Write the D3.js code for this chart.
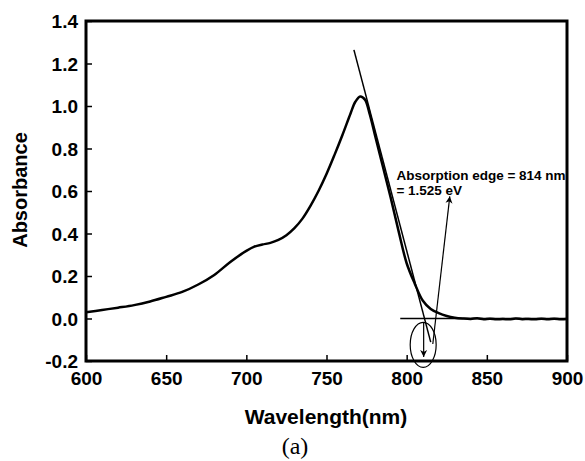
<!DOCTYPE html>
<html>
<head>
<meta charset="utf-8">
<script src="https://cdn.jsdelivr.net/npm/d3@7"></script>
<style>
    body { margin: 0; background: #fff; }
</style>
</head>
<body>
<div id="chart"></div>
<script>
// spectrum
let wavelength = [600, 610, 620, 630, 640, 650, 660, 670, 680, 690, 700, 705, 710, 715, 720, 725, 730, 735, 740, 745,
    750, 755, 760, 765, 768, 771, 774, 777, 780, 785, 790, 795, 800, 805, 810, 815, 820, 825, 830, 835,
    840, 844, 848, 852, 856, 860, 864, 868, 872, 876, 880, 884, 888, 892, 896, 900];
let absorbance = [0.029, 0.040, 0.051, 0.063, 0.080, 0.102, 0.125, 0.160, 0.205, 0.266, 0.318, 0.338, 0.348, 0.356, 0.370, 0.392, 0.425, 0.470, 0.530, 0.600,
    0.680, 0.770, 0.865, 0.965, 1.020, 1.045, 1.030, 0.960, 0.870, 0.720, 0.570, 0.410, 0.260, 0.165, 0.085, 0.045, 0.025, 0.012, 0.004, 0.000,
    -0.002, 0.001, -0.003, -0.001, -0.004, -0.002, -0.004, 0.000, -0.003, -0.002, -0.004, -0.001, -0.003, -0.001, -0.003, -0.002];

let xTicks = [600, 650, 700, 750, 800, 850, 900];
let yTicks = [-0.2, 0.0, 0.2, 0.4, 0.6, 0.8, 1.0, 1.2, 1.4];

// tangent, baseline and annotation marks (data units)
let tangent = [[767.1, 1.264], [815, -0.111]];
let baseline = [[796, 0], [900, 0]];
let downArrow = [[810.6, -0.018], [810.6, -0.181]];
let upArrow = [[816.3, -0.12], [826.9, 0.575]];
let ellipse = {cx: 810.3, cy: -0.124, rx: 8.1, ry: 0.106};
let noteLines = ["Absorption edge = 814 nm", "= 1.525 eV"];
let notePos = [[793.6, 0.651], [793.6, 0.579]];

let sans = "Arial, 'Liberation Sans', sans-serif";

let margin = {top: 21, right: 18, bottom: 100, left: 86};
let width = 585 - margin.left - margin.right;
let height = 461 - margin.top - margin.bottom;

let svg = d3.select("#chart").append("svg")
    .attr("width", 585)
    .attr("height", 461)
    .append("g")
    .attr("transform", `translate(${margin.left},${margin.top})`);

let x = d3.scaleLinear().domain([600, 900]).range([0, width]);
let y = d3.scaleLinear().domain([-0.2, 1.4]).range([height, 0]);

svg.append("defs").append("marker")
    .attr("id", "head")
    .attr("viewBox", "0 0 10 10")
    .attr("refX", 10).attr("refY", 5)
    .attr("markerWidth", 7).attr("markerHeight", 9)
    .attr("markerUnits", "userSpaceOnUse")
    .attr("orient", "auto")
    .append("path")
    .attr("d", "M0,0 L10,5 L0,10 L3,5 Z")
    .attr("fill", "#000");

// axes, ticks pointing inward
let xAxis = svg.append("g")
    .attr("transform", `translate(0,${height})`)
    .call(d3.axisBottom(x).tickValues(xTicks).tickSizeInner(-6).tickSizeOuter(0).tickPadding(11).tickFormat(d3.format("d")));

let yAxis = svg.append("g")
    .call(d3.axisLeft(y).tickValues(yTicks).tickSizeInner(-6).tickSizeOuter(0).tickPadding(8)
        .tickFormat(d => d3.format(".1f")(d).replace("\u2212", "-")));

[xAxis, yAxis].forEach(g => {
    g.select(".domain").remove();
    g.selectAll(".tick line").attr("stroke", "#000").attr("stroke-width", 1.5);
    g.selectAll(".tick text")
        .attr("fill", "#000")
        .style("font-family", sans)
        .style("font-weight", "700")
        .style("font-size", "19px");
});
yAxis.selectAll(".tick text").attr("dy", "0.36em");
xAxis.selectAll(".tick text").attr("dy", "0.71em");

// frame
svg.append("rect")
    .attr("x", 0).attr("y", 0)
    .attr("width", width).attr("height", height)
    .attr("fill", "none")
    .attr("stroke", "#000")
    .attr("stroke-width", 3);

let line = d3.line()
    .x(d => x(d[0]))
    .y(d => y(d[1]));

// spectrum
svg.append("path")
    .datum(wavelength.map((w, i) => [w, absorbance[i]]))
    .attr("fill", "none")
    .attr("stroke", "#000")
    .attr("stroke-width", 2.5)
    .attr("d", line.curve(d3.curveCatmullRom));

line.curve(d3.curveLinear);

svg.append("path")
    .datum(tangent)
    .attr("fill", "none")
    .attr("stroke", "#000")
    .attr("stroke-width", 1.5)
    .attr("d", line);

svg.append("path")
    .datum(baseline)
    .attr("fill", "none")
    .attr("stroke", "#000")
    .attr("stroke-width", 1.5)
    .attr("d", line);

[downArrow, upArrow].forEach(a => {
    svg.append("path")
        .datum(a)
        .attr("fill", "none")
        .attr("stroke", "#000")
        .attr("stroke-width", 1.2)
        .attr("marker-end", "url(#head)")
        .attr("d", line);
});

svg.append("ellipse")
    .attr("cx", x(ellipse.cx))
    .attr("cy", y(ellipse.cy))
    .attr("rx", x(600 + ellipse.rx) - x(600))
    .attr("ry", y(0) - y(ellipse.ry))
    .attr("fill", "none")
    .attr("stroke", "#000")
    .attr("stroke-width", 1.2);

svg.selectAll(".note")
    .data(noteLines)
    .join("text")
    .attr("class", "note")
    .attr("x", (d, i) => x(notePos[i][0]))
    .attr("y", (d, i) => y(notePos[i][1]))
    .style("font-family", sans)
    .style("font-weight", "700")
    .style("font-size", "13.5px")
    .text(d => d);

// titles
svg.append("text")
    .attr("x", 326 - margin.left)
    .attr("y", 424 - margin.top)
    .attr("text-anchor", "middle")
    .style("font-family", sans)
    .style("font-weight", "700")
    .style("font-size", "21px")
    .text("Wavelength(nm)");

svg.append("text")
    .attr("transform", `translate(${27 - margin.left},${190 - margin.top}) rotate(-90)`)
    .attr("text-anchor", "middle")
    .style("font-family", sans)
    .style("font-weight", "700")
    .style("font-size", "20px")
    .text("Absorbance");

svg.append("text")
    .attr("x", 295 - margin.left)
    .attr("y", 454 - margin.top)
    .attr("text-anchor", "middle")
    .style("font-family", "'Liberation Serif', 'Times New Roman', serif")
    .style("font-size", "24px")
    .text("(a)");
</script>
</body>
</html>
